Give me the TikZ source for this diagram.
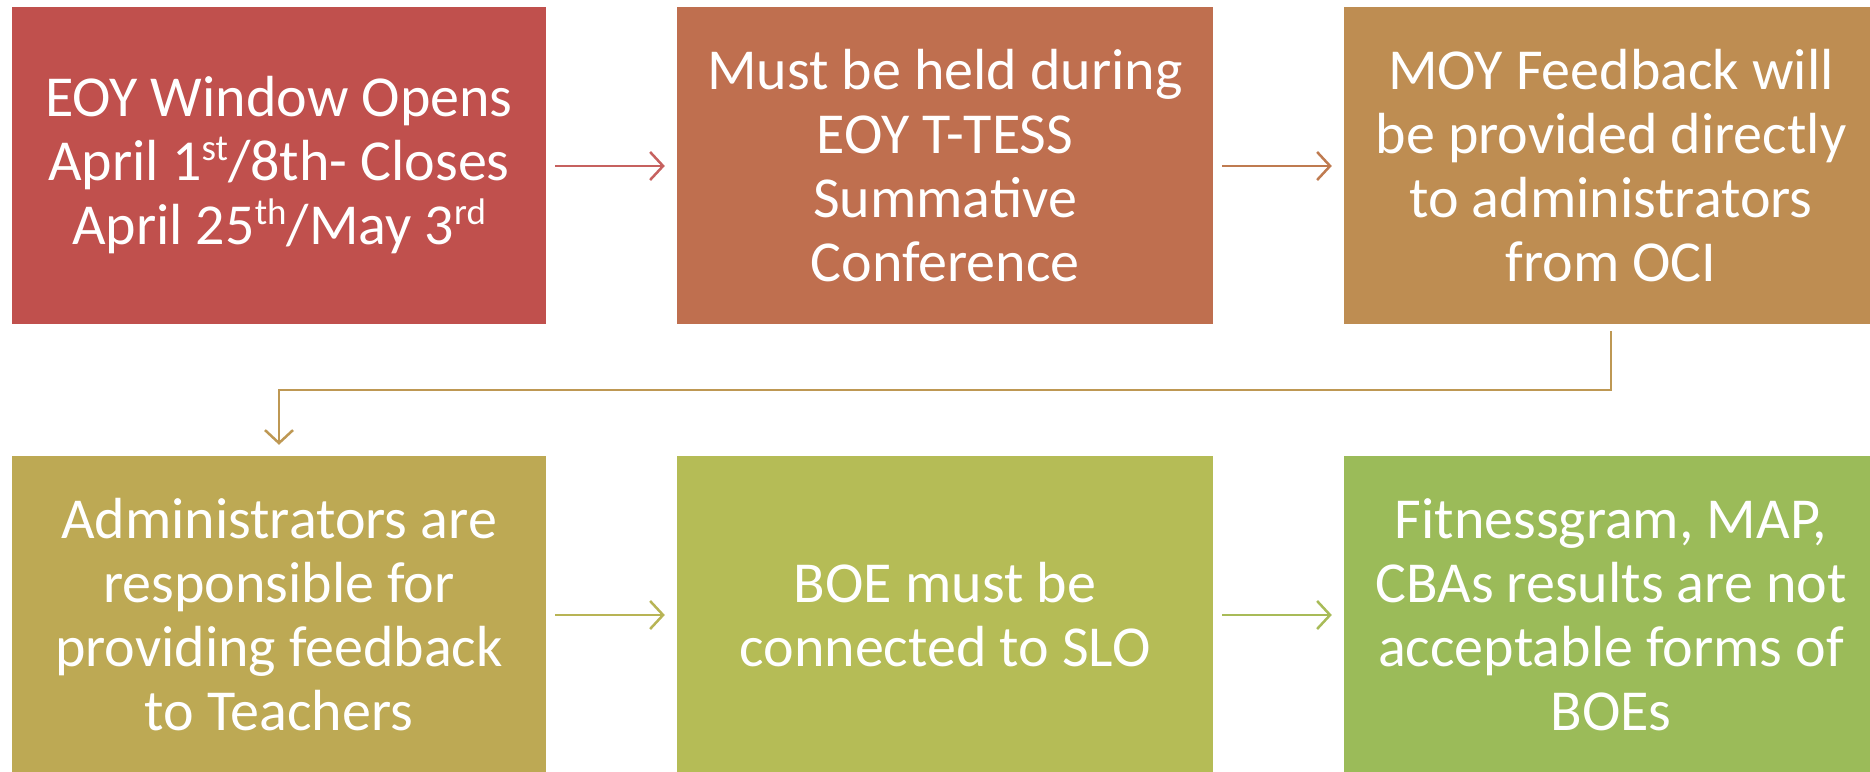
\documentclass[tikz,border=0pt]{standalone}
\usepackage{fontspec}
\setmainfont{Carlito}
\usetikzlibrary{arrows.meta}
\definecolor{c1}{HTML}{C0504D}
\definecolor{c2}{HTML}{BF6F4F}
\definecolor{c3}{HTML}{BE8D52}
\definecolor{c4}{HTML}{BDA954}
\definecolor{c5}{HTML}{B5BC56}
\definecolor{c6}{HTML}{9BBB59}
\newcommand{\mysup}[1]{\raisebox{0.36em}{\fontsize{37}{37}\selectfont #1}}
\tikzset{
  box/.style={rectangle, minimum width=534pt, minimum height=317pt, inner sep=0pt,
    text=white, align=center, font=\fontsize{58}{64}\selectfont},
  conn/.style={line width=2.5pt, -{Straight Barb[length=13pt,width=28pt,line width=2.5pt]}},
}
\begin{document}
\begin{tikzpicture}[x=1pt,y=1pt]
\useasboundingbox (0,0) rectangle (1870,771);
\clip (0,0) rectangle (1870,771);
\fill[white] (0,0) rectangle (1870,771);
\node[box, fill=c1] (b1) at (279,605.5) {EOY Window Opens\\April 1\mysup{st}/8th- Closes\\April 25\mysup{th}/May 3\mysup{rd}};
\node[box, fill=c2, minimum width=536pt] (b2) at (945,605.5) {Must be held during\\EOY T-TESS\\Summative\\Conference};
\node[box, fill=c3] (b3) at (1611,605.5) {MOY Feedback will\\be provided directly\\to administrators\\from OCI};
\node[box, fill=c4] (b4) at (279,156.5) {Administrators are\\responsible for\\providing feedback\\to Teachers};
\node[box, fill=c5, minimum width=536pt] (b5) at (945,156.5) {BOE must be\\connected to SLO};
\node[box, fill=c6] (b6) at (1611,156.5) {Fitnessgram, MAP,\\CBAs results are not\\acceptable forms of\\BOEs};
\draw[conn, draw=c1!90!white, shorten <=9pt, shorten >=12pt] (b1.east |- 0,605) -- (b2.west |- 0,605);
\draw[conn, draw=c2!60!c3, shorten <=9pt, shorten >=12pt] (b2.east |- 0,605) -- (b3.west |- 0,605);
\coordinate (m1) at (1611,381);
\coordinate (m2) at (279,381);
\draw[conn, draw=c3!60!c4, shorten <=7pt, shorten >=11pt] (b3.south) -- (m1) -- (m2) -- (b4.north);
\draw[conn, draw=c4!40!c5, shorten <=9pt, shorten >=12pt] (b4.east |- 0,156) -- (b5.west |- 0,156);
\draw[conn, draw=c5!50!c6, shorten <=9pt, shorten >=12pt] (b5.east |- 0,156) -- (b6.west |- 0,156);
\end{tikzpicture}
\end{document}
